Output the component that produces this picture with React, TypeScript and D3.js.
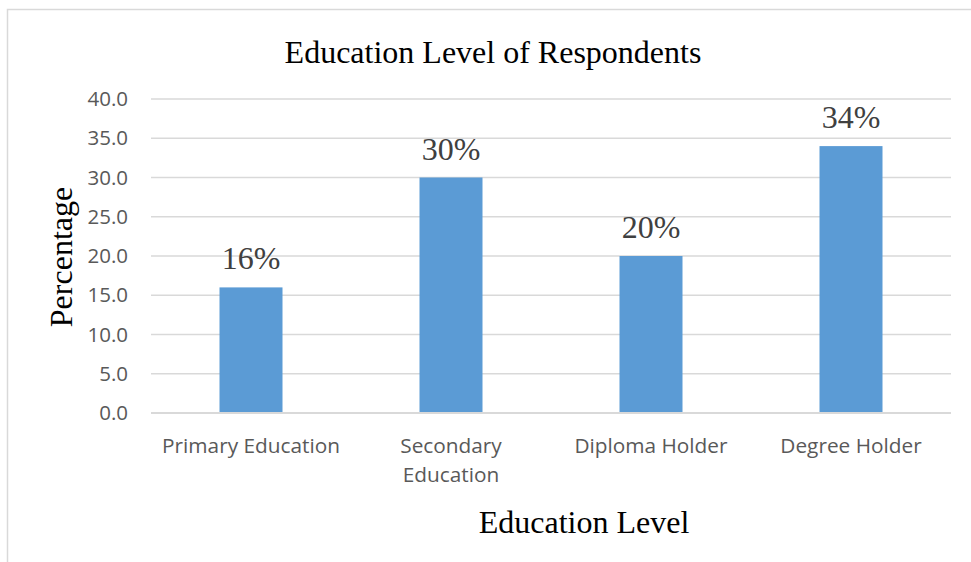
import React from "react";
import * as d3 from "d3";

const categories = ["Primary Education", "Secondary Education", "Diploma Holder", "Degree Holder"];
const categoryLines = [["Primary Education"], ["Secondary", "Education"], ["Diploma Holder"], ["Degree Holder"]];
const values = [16, 30, 20, 34];
const valueLabels = ["16%", "30%", "20%", "34%"];
const yTicks = [0, 5, 10, 15, 20, 25, 30, 35, 40];

const W = 971;
const H = 562;
const serif = "'Liberation Serif', 'Times New Roman', serif";
const sans = "'Open Sans', 'Noto Sans', sans-serif";

export default function App() {
  const x = d3.scaleBand<string>().domain(categories).range([151, 951]).paddingInner(0.685).paddingOuter(0.3425);
  const y = d3.scaleLinear().domain([0, 40]).range([413, 99]);

  return (
    <svg width={W} height={H} style={{ position: "fixed", left: 0, top: 0, background: "#fff" }}>
      <rect x={0} y={0} width={W} height={H} fill="#fff" />
      <rect x={7.5} y={9.5} width={1000} height={700} fill="none" stroke="#d9d9d9" strokeWidth={1.5} />
      <text x={493} y={63} textAnchor="middle" fontFamily={serif} fontSize={32} fill="#000">
        Education Level of Respondents
      </text>
      {yTicks.map((t) => (
        <g key={t}>
          <line x1={151} x2={951} y1={y(t)} y2={y(t)} stroke="#d9d9d9" strokeWidth={1.5} />
          <text x={128} y={y(t) + 7} textAnchor="end" fontFamily={sans} fontSize={20.5} fill="#595959">
            {d3.format(".1f")(t)}
          </text>
        </g>
      ))}
      {categories.map((c, i) => (
        <g key={c}>
          <rect x={x(c)} y={y(values[i])} width={x.bandwidth()} height={y(0) - y(values[i])} fill="#5B9BD5" />
          <text x={(x(c) ?? 0) + x.bandwidth() / 2} y={y(values[i]) - 18} textAnchor="middle" fontFamily={sans === "" ? sans : serif} fontSize={32} fill="#404040">
            {valueLabels[i]}
          </text>
          {categoryLines[i].map((ln, j) => (
            <text key={j} x={(x(c) ?? 0) + x.bandwidth() / 2} y={453 + j * 29} textAnchor="middle" fontFamily={sans} fontSize={20.8} fill="#595959">
              {ln}
            </text>
          ))}
        </g>
      ))}
      <line x1={151} x2={951} y1={y(0)} y2={y(0)} stroke="#d9d9d9" strokeWidth={2} />
      <text x={584} y={533} textAnchor="middle" fontFamily={serif} fontSize={32} fill="#000">
        Education Level
      </text>
      <text transform="translate(72,257) rotate(-90)" textAnchor="middle" fontFamily={serif} fontSize={32} fill="#000">
        Percentage
      </text>
    </svg>
  );
}
